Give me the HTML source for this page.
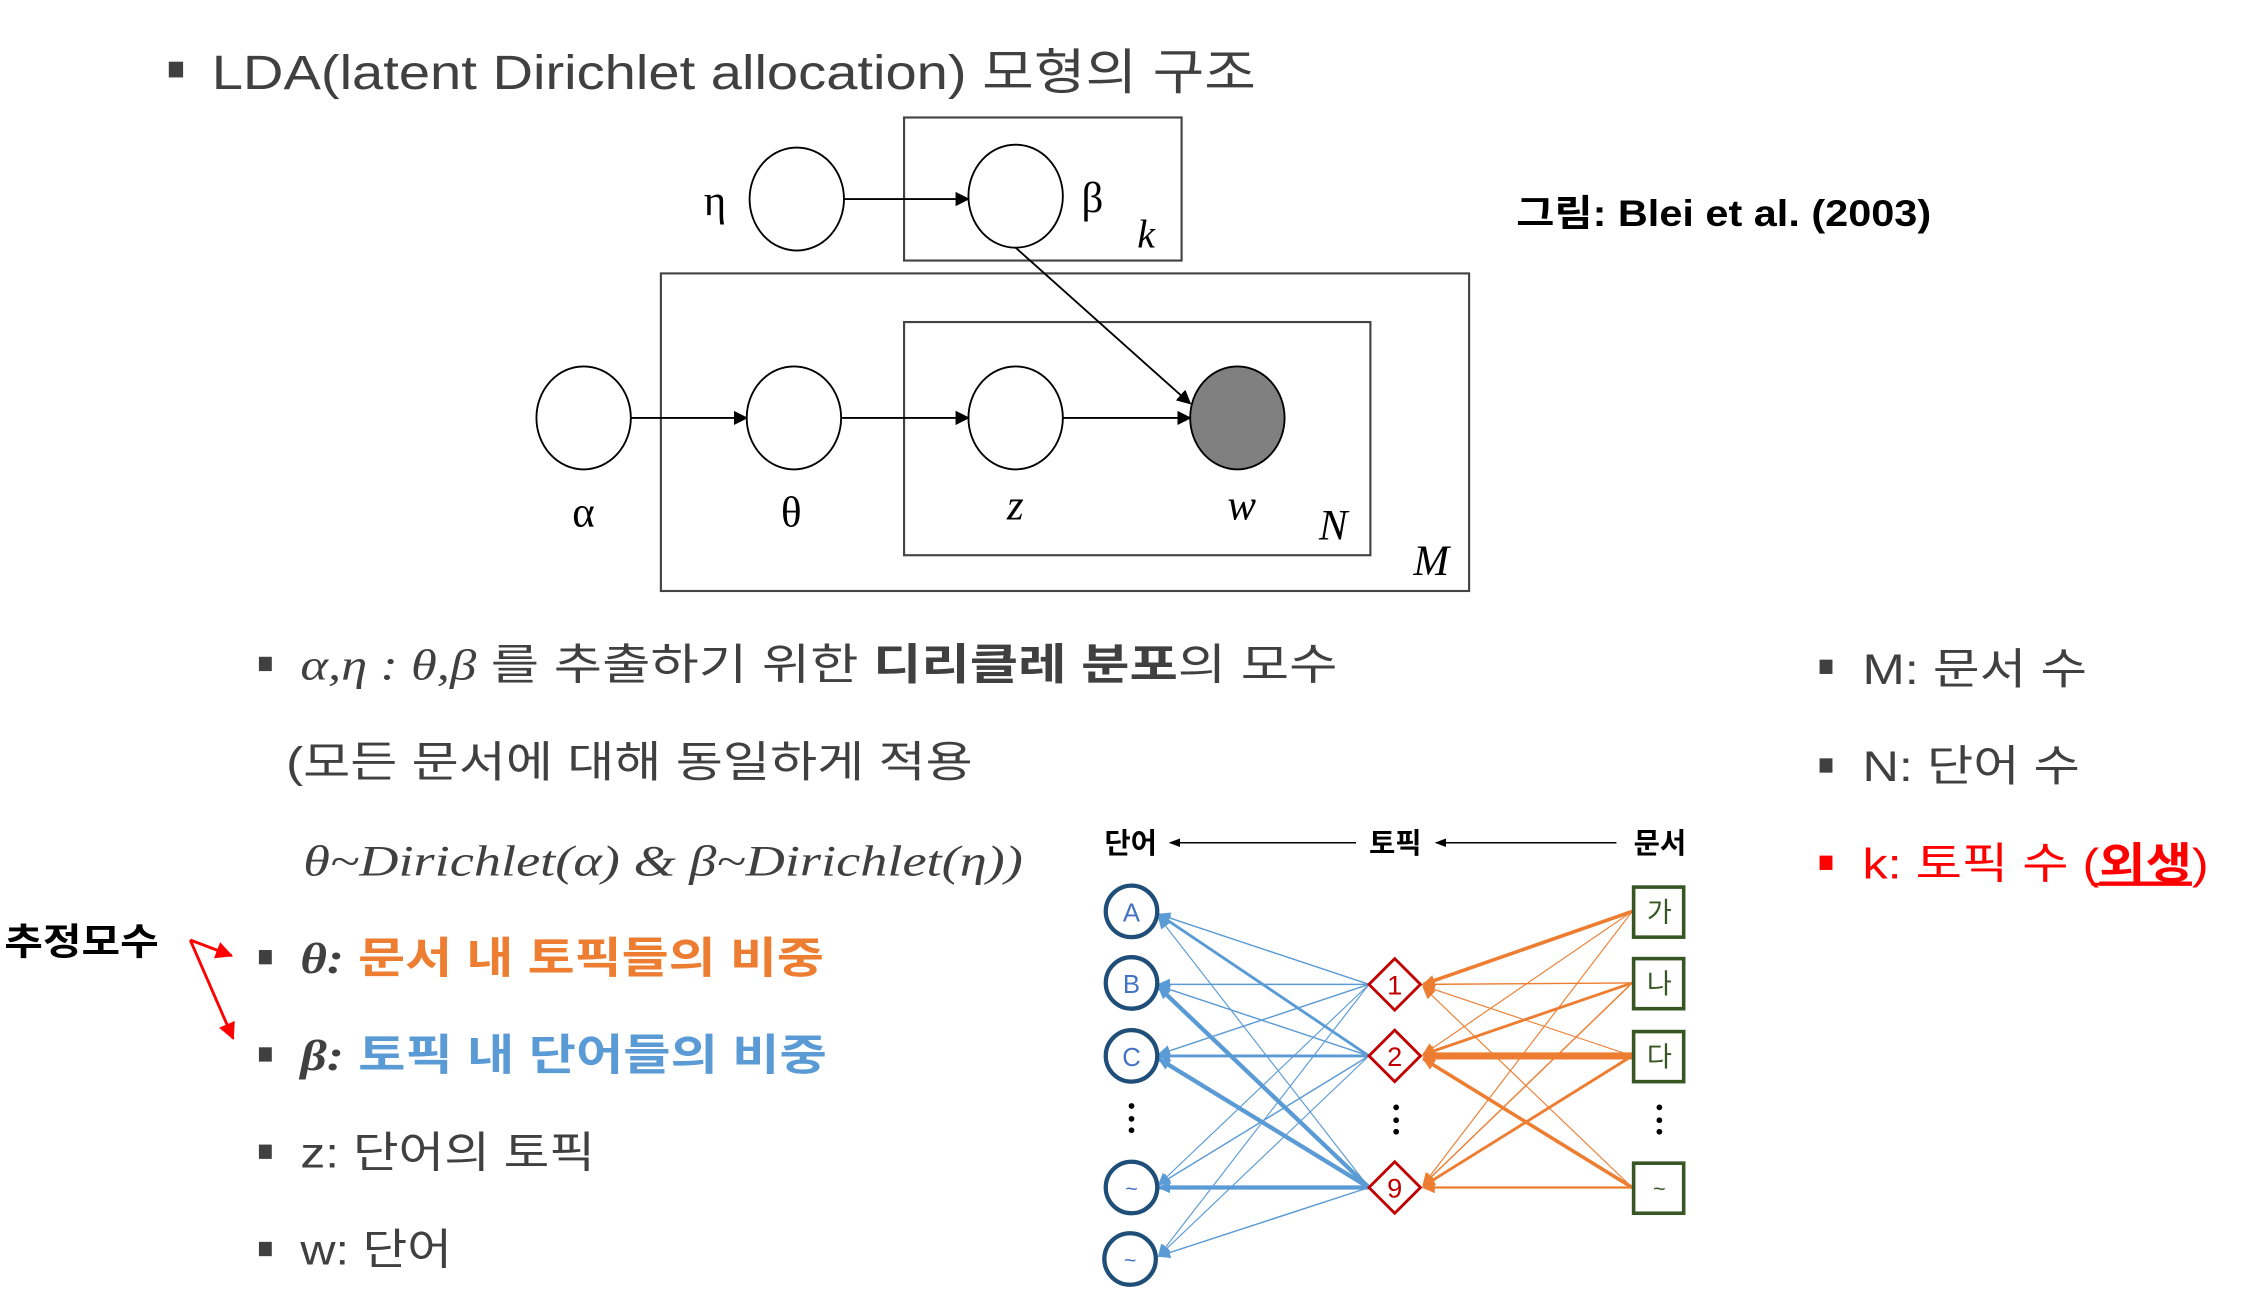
<!DOCTYPE html>
<html><head><meta charset="utf-8"><style>
html,body{margin:0;padding:0;background:#fff;}
svg{display:block}
text{font-family:"Liberation Sans","Noto Sans CJK KR",sans-serif;}
.s{font-family:"Liberation Serif","Noto Serif CJK SC",serif;}
</style></head><body>
<svg width="2243" height="1315" viewBox="0 0 1568 919" xmlns="http://www.w3.org/2000/svg">
<defs>
<marker id="ab" markerWidth="10" markerHeight="10" refX="9" refY="5" orient="auto" markerUnits="userSpaceOnUse"><path d="M0,0 L10,5 L0,10 z" fill="#000"/></marker>
<marker id="as" markerWidth="8" markerHeight="8" refX="7" refY="4" orient="auto" markerUnits="userSpaceOnUse"><path d="M0,1 L8,4 L0,7 z" fill="#000"/></marker>
<marker id="ar" markerWidth="12" markerHeight="12" refX="11" refY="6" orient="auto" markerUnits="userSpaceOnUse"><path d="M0,0 L12,6 L0,12 z" fill="#f00"/></marker>
<marker id="abl" markerWidth="10" markerHeight="10" refX="8" refY="5" orient="auto" markerUnits="userSpaceOnUse"><path d="M0,1 L9,5 L0,9 z" fill="#5b9bd5"/></marker>
<marker id="aor" markerWidth="10" markerHeight="10" refX="8" refY="5" orient="auto" markerUnits="userSpaceOnUse"><path d="M0,1 L9,5 L0,9 z" fill="#ed7d31"/></marker>
</defs>

<!-- title -->
<rect x="118" y="43" width="10" height="11" fill="#404040"/>
<text x="148" y="62" font-size="34" fill="#404040" textLength="730" lengthAdjust="spacingAndGlyphs">LDA(latent Dirichlet allocation) 모형의 구조</text>
<text x="1060" y="158" font-size="26" font-weight="bold" fill="#000" textLength="290" lengthAdjust="spacingAndGlyphs">그림: Blei et al. (2003)</text>

<!-- plates -->
<g fill="none" stroke="#444" stroke-width="1.5">
<rect x="632" y="82" width="194" height="100"/>
<rect x="462" y="191" width="565" height="222"/>
<rect x="632" y="225" width="326" height="163"/>
</g>
<g stroke="#000" stroke-width="1.3" fill="#fff">
<ellipse cx="557" cy="139" rx="33" ry="36"/>
<ellipse cx="710" cy="137" rx="33" ry="36"/>
<ellipse cx="408" cy="292" rx="33" ry="36"/>
<ellipse cx="555" cy="292" rx="33" ry="36"/>
<ellipse cx="710" cy="292" rx="33" ry="36"/>
<ellipse cx="865" cy="292" rx="33" ry="36" fill="#808080"/>
</g>
<g stroke="#000" stroke-width="1.3">
<line x1="590" y1="139" x2="677" y2="139" marker-end="url(#ab)"/>
<line x1="441" y1="292" x2="522" y2="292" marker-end="url(#ab)"/>
<line x1="588" y1="292" x2="677" y2="292" marker-end="url(#ab)"/>
<line x1="743" y1="292" x2="832" y2="292" marker-end="url(#ab)"/>
<line x1="710" y1="173" x2="832" y2="282" marker-end="url(#ab)"/>
</g>
<g class="s" font-size="30" fill="#000">
<text class="s" x="492" y="150">η</text>
<text class="s" x="756" y="148">β</text>
<text class="s" x="795" y="173" font-style="italic" font-size="28">k</text>
<text class="s" x="400" y="368">α</text>
<text class="s" x="546" y="368">θ</text>
<text class="s" x="704" y="363" font-style="italic">z</text>
<text class="s" x="858" y="363" font-style="italic">w</text>
<text class="s" x="922" y="377" font-style="italic">N</text>
<text class="s" x="988" y="402" font-style="italic">M</text>
</g>

<!-- left bullets -->
<g fill="#404040">
<rect x="181" y="459" width="9" height="10"/>
<rect x="181" y="664" width="9" height="10"/>
<rect x="181" y="732" width="9" height="10"/>
<rect x="181" y="800" width="9" height="10"/>
<rect x="181" y="868" width="9" height="10"/>
<rect x="1272" y="461" width="9" height="10"/>
<rect x="1272" y="530" width="9" height="10"/>
</g>
<rect x="1272" y="598" width="9" height="10" fill="#f00"/>

<text x="210" y="475" font-size="30" fill="#404040" textLength="725" lengthAdjust="spacingAndGlyphs"><tspan class="s" font-style="italic">α,η : θ,β</tspan> 를 추출하기 위한 <tspan font-weight="bold">디리클레 분포</tspan>의 모수</text>
<text x="200" y="543" font-size="30" fill="#404040" textLength="480" lengthAdjust="spacingAndGlyphs">(모든 문서에 대해 동일하게 적용</text>
<text class="s" x="212" y="612" font-size="30" font-style="italic" fill="#404040" textLength="503" lengthAdjust="spacingAndGlyphs">θ~Dirichlet(α) &amp; β~Dirichlet(η))</text>
<text x="210" y="680" font-size="30" font-weight="bold" fill="#ed7d31" textLength="366" lengthAdjust="spacingAndGlyphs"><tspan class="s" font-style="italic" fill="#404040">θ:</tspan> 문서 내 토픽들의 비중</text>
<text x="210" y="748" font-size="30" font-weight="bold" fill="#5b9bd5" textLength="368" lengthAdjust="spacingAndGlyphs"><tspan class="s" font-style="italic" fill="#404040">β:</tspan> 토픽 내 단어들의 비중</text>
<text x="210" y="816" font-size="30" fill="#404040" textLength="206" lengthAdjust="spacingAndGlyphs">z: 단어의 토픽</text>
<text x="210" y="884" font-size="30" fill="#404040" textLength="106" lengthAdjust="spacingAndGlyphs">w: 단어</text>

<text x="3" y="667" font-size="26" font-weight="bold" fill="#000" textLength="108" lengthAdjust="spacingAndGlyphs">추정모수</text>
<line x1="133" y1="657" x2="162" y2="668" stroke="#f00" stroke-width="2" marker-end="url(#ar)"/>
<line x1="133" y1="657" x2="163" y2="726" stroke="#f00" stroke-width="2" marker-end="url(#ar)"/>

<text x="1302" y="478" font-size="30" fill="#404040" textLength="157" lengthAdjust="spacingAndGlyphs">M: 문서 수</text>
<text x="1302" y="546" font-size="30" fill="#404040" textLength="152" lengthAdjust="spacingAndGlyphs">N: 단어 수</text>
<text x="1302" y="614" font-size="30" fill="#f00" textLength="242" lengthAdjust="spacingAndGlyphs">k: 토픽 수 (<tspan font-weight="bold" text-decoration="underline">외생</tspan>)</text>
<line x1="1462" y1="618" x2="1532" y2="618" stroke="#f00" stroke-width="2"/>

<!-- network -->
<g font-size="20" font-weight="bold" fill="#000">
<text x="772" y="596">단어</text>
<text x="957" y="596">토픽</text>
<text x="1142" y="596">문서</text>
</g>
<line x1="948" y1="589" x2="818" y2="589" stroke="#000" stroke-width="1" marker-end="url(#as)"/>
<line x1="1130" y1="589" x2="1004" y2="589" stroke="#000" stroke-width="1" marker-end="url(#as)"/>

<!-- blue edges -->
<g stroke="#5b9bd5" fill="none">
<line x1="957" y1="688" x2="810" y2="639" stroke-width="1" marker-end="url(#abl)"/>
<line x1="957" y1="688" x2="810" y2="688" stroke-width="1" marker-end="url(#abl)"/>
<line x1="957" y1="688" x2="810" y2="737" stroke-width="1" marker-end="url(#abl)"/>
<line x1="957" y1="688" x2="810" y2="828" stroke-width="0.8" marker-end="url(#abl)"/>
<line x1="957" y1="688" x2="810" y2="878" stroke-width="0.8" marker-end="url(#abl)"/>
<line x1="957" y1="738" x2="810" y2="639" stroke-width="2" marker-end="url(#abl)"/>
<line x1="957" y1="738" x2="810" y2="689" stroke-width="1" marker-end="url(#abl)"/>
<line x1="957" y1="738" x2="810" y2="738" stroke-width="2" marker-end="url(#abl)"/>
<line x1="957" y1="738" x2="810" y2="828" stroke-width="1" marker-end="url(#abl)"/>
<line x1="957" y1="738" x2="810" y2="878" stroke-width="0.8" marker-end="url(#abl)"/>
<line x1="957" y1="830" x2="810" y2="641" stroke-width="0.8" marker-end="url(#abl)"/>
<line x1="957" y1="830" x2="810" y2="690" stroke-width="3" marker-end="url(#abl)"/>
<line x1="957" y1="830" x2="810" y2="740" stroke-width="3" marker-end="url(#abl)"/>
<line x1="957" y1="830" x2="810" y2="830" stroke-width="3" marker-end="url(#abl)"/>
<line x1="957" y1="830" x2="810" y2="878" stroke-width="1" marker-end="url(#abl)"/>
</g>
<!-- orange edges -->
<g stroke="#ed7d31" fill="none">
<line x1="1141" y1="637" x2="995" y2="688" stroke-width="2.5" marker-end="url(#aor)"/>
<line x1="1141" y1="637" x2="995" y2="737" stroke-width="0.8" marker-end="url(#aor)"/>
<line x1="1141" y1="637" x2="995" y2="828" stroke-width="0.8" marker-end="url(#aor)"/>
<line x1="1141" y1="687" x2="995" y2="688" stroke-width="1" marker-end="url(#aor)"/>
<line x1="1141" y1="687" x2="995" y2="737" stroke-width="2" marker-end="url(#aor)"/>
<line x1="1141" y1="687" x2="995" y2="828" stroke-width="1" marker-end="url(#aor)"/>
<line x1="1141" y1="738" x2="995" y2="689" stroke-width="0.8" marker-end="url(#aor)"/>
<line x1="1141" y1="738" x2="995" y2="738" stroke-width="5" marker-end="url(#aor)"/>
<line x1="1141" y1="738" x2="995" y2="829" stroke-width="2" marker-end="url(#aor)"/>
<line x1="1141" y1="830" x2="995" y2="690" stroke-width="0.8" marker-end="url(#aor)"/>
<line x1="1141" y1="830" x2="995" y2="740" stroke-width="2.5" marker-end="url(#aor)"/>
<line x1="1141" y1="830" x2="995" y2="830" stroke-width="1.5" marker-end="url(#aor)"/>
</g>

<!-- nodes -->
<g fill="#fff" stroke="#1f4e79" stroke-width="3">
<circle cx="791" cy="637" r="18"/>
<circle cx="791" cy="687" r="18"/>
<circle cx="791" cy="738" r="18"/>
<circle cx="791" cy="830" r="18"/>
<circle cx="790" cy="880" r="18"/>
</g>
<g font-size="18" fill="#4472c4" text-anchor="middle">
<text x="791" y="644">A</text>
<text x="791" y="694">B</text>
<text x="791" y="745">C</text>
<text x="791" y="836" font-size="15">~</text>
<text x="790" y="886" font-size="15">~</text>
</g>
<g fill="#fff" stroke="#c00000" stroke-width="2">
<path d="M975,670 L993,688 L975,706 L957,688 z"/>
<path d="M975,720 L993,738 L975,756 L957,738 z"/>
<path d="M975,812 L993,830 L975,848 L957,830 z"/>
</g>
<g font-size="19" fill="#c00000" text-anchor="middle">
<text x="975" y="695">1</text>
<text x="975" y="745">2</text>
<text x="975" y="837">9</text>
</g>
<g fill="#fff" stroke="#375623" stroke-width="2.5">
<rect x="1142" y="620" width="35" height="35"/>
<rect x="1142" y="670" width="35" height="35"/>
<rect x="1142" y="721" width="35" height="35"/>
<rect x="1142" y="813" width="35" height="35"/>
</g>
<g font-size="19" fill="#375623" text-anchor="middle">
<text x="1160" y="644">가</text>
<text x="1160" y="694">나</text>
<text x="1160" y="745">다</text>
<text x="1160" y="836" font-size="15">~</text>
</g>
<g fill="#000">
<circle cx="791" cy="773" r="2"/><circle cx="791" cy="782" r="2"/><circle cx="791" cy="790" r="2"/>
<circle cx="976" cy="774" r="2"/><circle cx="976" cy="783" r="2"/><circle cx="976" cy="791" r="2"/>
<circle cx="1160" cy="774" r="2"/><circle cx="1160" cy="783" r="2"/><circle cx="1160" cy="791" r="2"/>
</g>
</svg>
</body></html>
